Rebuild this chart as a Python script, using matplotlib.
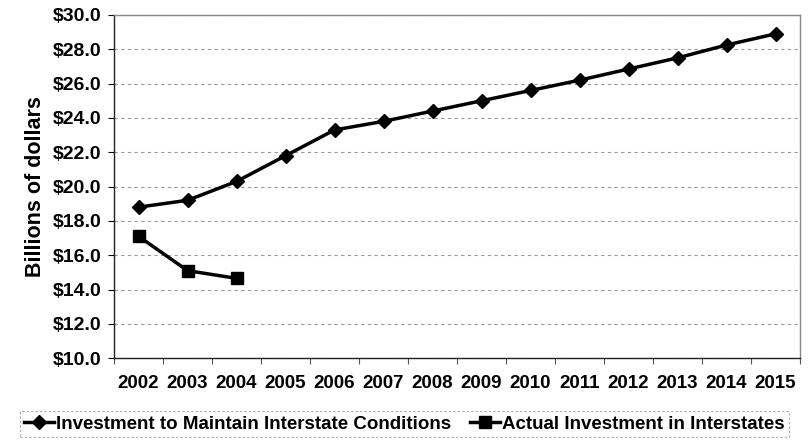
import matplotlib.pyplot as plt
from matplotlib.ticker import FuncFormatter, FixedLocator

# data
years = ["2002", "2003", "2004", "2005", "2006", "2007", "2008",
         "2009", "2010", "2011", "2012", "2013", "2014", "2015"]
maintain = [18.8, 19.2, 20.3, 21.8, 23.3, 23.8, 24.4,
            25.0, 25.6, 26.2, 26.85, 27.5, 28.25, 28.9]
actual_years = ["2002", "2003", "2004"]
actual = [17.1, 15.1, 14.65]

plt.rcParams['font.family'] = ['Liberation Sans', 'DejaVu Sans']
plt.rcParams['font.weight'] = 'bold'

fig = plt.figure(figsize=(8.09, 4.40), dpi=100)
ax = fig.add_axes([0.141, 0.186, 0.848, 0.780])

x = list(range(len(years)))
xa = [years.index(y) for y in actual_years]

ax.plot(x, maintain, color="black", lw=2.5, marker="D", markersize=7,
        label="Investment to Maintain Interstate Conditions")
ax.plot(xa, actual, color="black", lw=2.5, marker="s", markersize=9,
        label="Actual Investment in Interstates")

ax.set_xlim(-0.5, len(years) - 0.5)
ax.set_ylim(10, 30)
ax.set_yticks(range(10, 31, 2))
ax.yaxis.set_major_formatter(FuncFormatter(lambda v, p: f"${v:.1f}"))
ax.set_xticks(x)
ax.set_xticklabels(years)
ax.tick_params(axis="x", length=0, labelsize=13.5, pad=12)
ax.xaxis.set_minor_locator(FixedLocator([i - 0.5 for i in range(len(years) + 1)]))
ax.tick_params(axis="x", which="minor", length=4, width=0.8, color="#555555")
ax.tick_params(axis="y", length=4, width=0.8, labelsize=14, pad=5)

ax.grid(axis="y", linestyle=(0, (3, 3)), color="#999999", lw=0.8)
ax.set_axisbelow(True)

for s in ["left", "bottom"]:
    ax.spines[s].set_color("#222222")
    ax.spines[s].set_linewidth(1.0)
for s in ["top", "right"]:
    ax.spines[s].set_color("#888888")
    ax.spines[s].set_linewidth(1.0)

ax.set_ylabel("Billions of dollars", fontsize=15.5, fontweight="bold", labelpad=5)

leg = fig.legend(loc="lower center", bbox_to_anchor=(0.5, 0.0), ncol=2,
                 frameon=True, fancybox=False, fontsize=13.5, handlelength=1.6,
                 handletextpad=0.1, columnspacing=1.0, borderpad=0.25,
                 borderaxespad=0.15)
leg.get_frame().set_edgecolor("#999999")
leg.get_frame().set_linestyle((0, (2, 2)))
leg.get_frame().set_linewidth(0.8)

fig.savefig("out.png", dpi=100)
